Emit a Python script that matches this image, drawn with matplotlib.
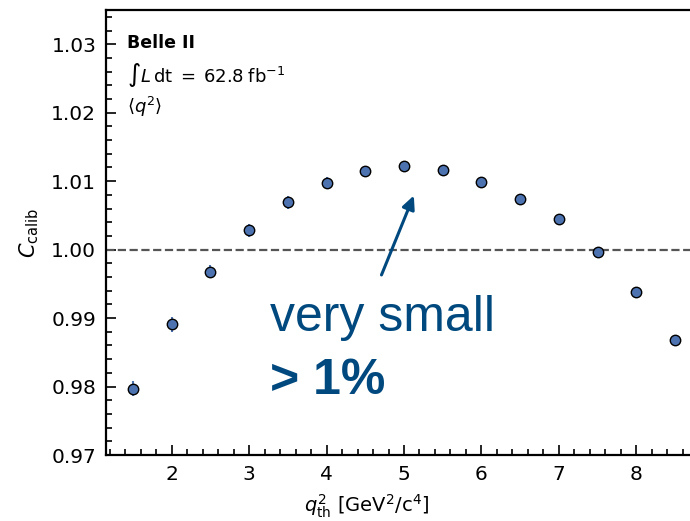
import numpy as np
import matplotlib
matplotlib.use("Agg")
import matplotlib.pyplot as plt
from matplotlib.ticker import MultipleLocator

plt.rcParams["mathtext.fontset"] = "dejavusans"
plt.rcParams["font.family"] = ["DejaVu Sans"]

# q^2 threshold scan of the calibration factor
q2_th = [1.5, 2.0, 2.5, 3.0, 3.5, 4.0, 4.5, 5.0, 5.5, 6.0, 6.5, 7.0, 7.5, 8.0, 8.5]
c_calib = [0.9797, 0.9891, 0.9968, 1.0028, 1.0069, 1.0098, 1.0115, 1.0122,
           1.0116, 1.0099, 1.0074, 1.0044, 0.9997, 0.9938, 0.9868]
c_err = [0.0011, 0.0011, 0.0009, 0.0009, 0.0009, 0.0008, 0.0007, 0.0006,
         0.0006, 0.0006, 0.0005, 0.0005, 0.0005, 0.0005, 0.0005]
x_ticks = [2, 3, 4, 5, 6, 7, 8]
y_ticks = [0.97, 0.98, 0.99, 1.00, 1.01, 1.02, 1.03]

blue = "#4C72B0"
note_blue = "#00497f"

fig = plt.figure(figsize=(6.9, 5.21), dpi=100)
ax = fig.add_axes([106 / 690, 1 - 455 / 521, 1 - 106 / 690, 445 / 521])

ax.errorbar(q2_th, c_calib, yerr=c_err, fmt="o", color=blue, ecolor=blue,
            elinewidth=1.5, capsize=0, markersize=7.5, markeredgecolor="black",
            markeredgewidth=1.0, zorder=3)
ax.axhline(1.0, color="#555555", linestyle="--", linewidth=1.6, zorder=2)

ax.set_xlim(1.15, 8.695)
ax.set_ylim(0.97, 1.035)
ax.set_xticks(x_ticks)
ax.set_yticks(y_ticks)
ax.set_yticklabels([f"{v:.2f}" for v in y_ticks])
ax.xaxis.set_minor_locator(MultipleLocator(0.2))
ax.yaxis.set_minor_locator(MultipleLocator(0.002))
ax.tick_params(which="both", direction="in", top=False, right=False,
               labelsize=14.5, width=1.2, pad=7)
ax.tick_params(which="major", length=7)
ax.tick_params(which="minor", length=4)
for side in ("left", "bottom", "top"):
    ax.spines[side].set_linewidth(1.6)
ax.spines["right"].set_visible(False)

ax.set_xlabel(r"$q^2_{\rm th}$ [GeV$^2$/c$^4$]", fontsize=14)
ax.set_ylabel(r"$C_{\rm calib}$", fontsize=15)
ax.xaxis.set_label_coords((367 - 106) / 584, -0.085)
ax.yaxis.set_label_coords(-0.112, 0.5)

ax.text(0.036, 0.914, "Belle II", transform=ax.transAxes, fontsize=12.5,
        fontweight="bold", va="baseline", ha="left")
ax.text(0.036, 0.839, r"$\int L\,\mathrm{dt}\;=\;62.8\;\mathrm{fb}^{-1}$",
        transform=ax.transAxes, fontsize=13, va="baseline", ha="left")
ax.text(0.036, 0.7685, r"$\langle q^2 \rangle$", transform=ax.transAxes,
        fontsize=13, va="baseline", ha="left")

ax.annotate("", xy=(5.127, 1.0079), xytext=(4.709, 0.9963),
            arrowprops=dict(arrowstyle="-|>,head_length=0.8,head_width=0.38",
                            color=note_blue, lw=2.2, shrinkA=0, shrinkB=0))
ax.text(3.266, 0.98814, "very small", color=note_blue, fontsize=36,
        family="Liberation Sans", va="baseline", ha="left")
ax.text(3.266, 0.97892, "> 1%", color=note_blue, fontsize=36,
        family="Liberation Sans", fontweight="bold", va="baseline", ha="left")

fig.savefig("out.png", dpi=100)
